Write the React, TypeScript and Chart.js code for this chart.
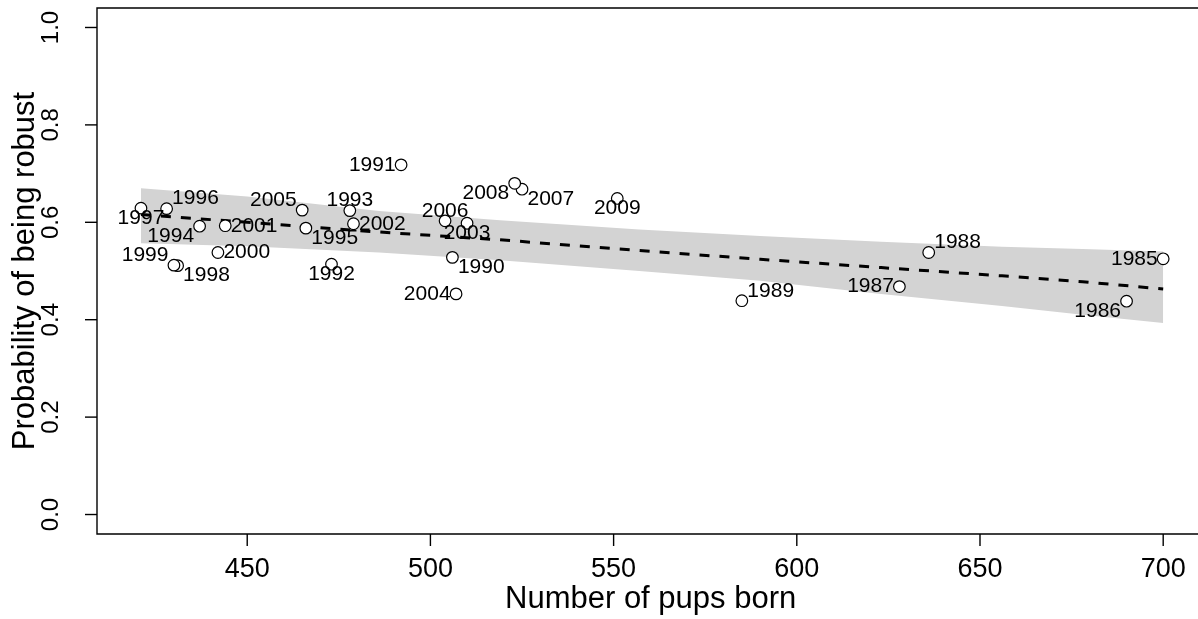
import { useEffect, useRef } from 'react';
import { Chart, registerables } from 'chart.js';

Chart.register(...registerables);

// Observed years: pups born vs. probability of being robust
const years = [1985, 1986, 1987, 1988, 1989, 1990, 1991, 1992, 1993, 1994, 1995, 1996, 1997, 1998, 1999, 2000, 2001, 2002, 2003, 2004, 2005, 2006, 2007, 2008, 2009];
const pupsBorn = [700, 690, 628, 636, 585, 506, 492, 473, 478, 437, 466, 428, 421, 431, 430, 442, 444, 479, 510, 507, 465, 504, 525, 523, 551];
const probRobust = [0.525, 0.438, 0.468, 0.538, 0.439, 0.528, 0.718, 0.514, 0.624, 0.592, 0.588, 0.628, 0.629, 0.511, 0.512, 0.538, 0.593, 0.597, 0.598, 0.453, 0.625, 0.603, 0.668, 0.680, 0.649];
// Where each year's label sits relative to its point
const labelSide = ['L', 'LB', 'L', 'RT', 'RT', 'RB', 'L', 'B', 'T', 'LB', 'RB', 'RT', 'B', 'RB', 'LT', 'R', 'R', 'R', 'B', 'L', 'LT', 'T', 'RB', 'LB', 'B'];

// Fitted trend and its confidence band
const fitPups = [421, 450, 486, 519, 557, 590, 623, 656, 678, 700];
const fitProb = [0.616, 0.600, 0.580, 0.564, 0.542, 0.524, 0.507, 0.490, 0.478, 0.463];
const fitUpper = [0.670, 0.653, 0.623, 0.604, 0.585, 0.572, 0.560, 0.550, 0.545, 0.540];
const fitLower = [0.557, 0.551, 0.538, 0.522, 0.500, 0.480, 0.453, 0.428, 0.410, 0.393];

const xTicks = [450, 500, 550, 600, 650, 700];
const yTicks = [0, 0.2, 0.4, 0.6, 0.8, 1.0];
const yTickLabels = ['0.0', '0.2', '0.4', '0.6', '0.8', '1.0'];

const xTitle = 'Number of pups born';
const yTitle = 'Probability of being robust';

const FONT = "'Liberation Sans', Arial, sans-serif";

const toXY = (xs: number[], ys: number[]) => xs.map((x, i) => ({ x, y: ys[i] }));

const axesPlugin = {
  id: 'baseAxes',
  afterDraw(chart: any) {
    const { ctx, chartArea } = chart;
    const { left, top, right, bottom } = chartArea;
    const xs = chart.scales.x;
    const ys = chart.scales.y;
    ctx.save();
    ctx.strokeStyle = '#000';
    ctx.lineWidth = 1.4;
    ctx.beginPath();
    ctx.moveTo(right + 2, top);
    ctx.lineTo(left, top);
    ctx.lineTo(left, bottom);
    ctx.lineTo(right + 2, bottom);
    ctx.stroke();

    ctx.fillStyle = '#000';
    // x axis ticks and labels
    ctx.font = `27px ${FONT}`;
    ctx.textAlign = 'center';
    ctx.textBaseline = 'alphabetic';
    xTicks.forEach((v) => {
      const px = xs.getPixelForValue(v);
      ctx.beginPath();
      ctx.moveTo(px, bottom);
      ctx.lineTo(px, bottom + 12);
      ctx.stroke();
      ctx.fillText(String(v), px, 577);
    });

    // y axis ticks and rotated labels
    ctx.font = `24px ${FONT}`;
    yTicks.forEach((v, i) => {
      const py = ys.getPixelForValue(v);
      ctx.beginPath();
      ctx.moveTo(left - 12, py);
      ctx.lineTo(left, py);
      ctx.stroke();
      ctx.save();
      ctx.translate(58, py);
      ctx.rotate(-Math.PI / 2);
      ctx.fillText(yTickLabels[i], 0, 0);
      ctx.restore();
    });

    // axis titles
    ctx.font = `31px ${FONT}`;
    ctx.fillText(xTitle, (left + xs.getPixelForValue(711.2)) / 2, 608);
    ctx.save();
    ctx.translate(34, (top + bottom) / 2);
    ctx.rotate(-Math.PI / 2);
    ctx.fillText(yTitle, 0, 0);
    ctx.restore();
    ctx.restore();
  },
};

const yearLabelsPlugin = {
  id: 'yearLabels',
  afterDatasetsDraw(chart: any) {
    const { ctx } = chart;
    const meta = chart.getDatasetMeta(0);
    ctx.save();
    ctx.fillStyle = '#000';
    ctx.font = `21px ${FONT}`;
    ctx.textBaseline = 'middle';
    meta.data.forEach((el: any, i: number) => {
      const side = labelSide[i];
      let dx = 0;
      let dy = 0;
      let align: CanvasTextAlign = 'center';
      if (side.includes('L')) { dx = -5.5; align = 'right'; }
      if (side.includes('R')) { dx = 5.5; align = 'left'; }
      if (side.includes('T')) dy = -10;
      if (side.includes('B')) dy = 10;
      ctx.textAlign = align;
      ctx.fillText(String(years[i]), el.x + dx, el.y + dy);
    });
    ctx.restore();
  },
};

export default function App() {
  const canvasRef = useRef<HTMLCanvasElement>(null);

  useEffect(() => {
    document.body.style.margin = '0';
    const canvas = canvasRef.current;
    if (!canvas) return;
    const chart = new Chart(canvas, {
      type: 'line',
      data: {
        datasets: [
          {
            label: 'Years',
            data: toXY(pupsBorn, probRobust),
            showLine: false,
            pointRadius: 5.8,
            pointBackgroundColor: '#ffffff',
            pointBorderColor: '#000000',
            pointBorderWidth: 1.2,
          },
          {
            label: 'Fit',
            data: toXY(fitPups, fitProb),
            borderColor: '#000000',
            borderWidth: 3,
            borderDash: [10, 10],
            pointRadius: 0,
            fill: false,
          },
          {
            label: 'Upper',
            data: toXY(fitPups, fitUpper),
            borderColor: 'rgba(0,0,0,0)',
            borderWidth: 0,
            pointRadius: 0,
            backgroundColor: '#d3d3d3',
            fill: '+1',
          },
          {
            label: 'Lower',
            data: toXY(fitPups, fitLower),
            borderColor: 'rgba(0,0,0,0)',
            borderWidth: 0,
            pointRadius: 0,
            fill: false,
          },
        ],
      },
      options: {
        animation: false,
        responsive: false,
        events: [],
        layout: { autoPadding: false, padding: { left: 97, top: 8, right: 0, bottom: 85 } },
        elements: { line: { tension: 0 } },
        scales: {
          x: { type: 'linear', min: 409, max: 709.5, display: false },
          y: { type: 'linear', min: -0.04, max: 1.04, display: false },
        },
        plugins: {
          legend: { display: false },
          tooltip: { enabled: false },
        },
      },
      plugins: [axesPlugin, yearLabelsPlugin],
    });
    return () => chart.destroy();
  }, []);

  return (
    <div style={{ width: 1198, height: 619, background: '#ffffff' }}>
      <canvas ref={canvasRef} width={1198} height={619} style={{ width: 1198, height: 619, display: 'block' }} />
    </div>
  );
}
